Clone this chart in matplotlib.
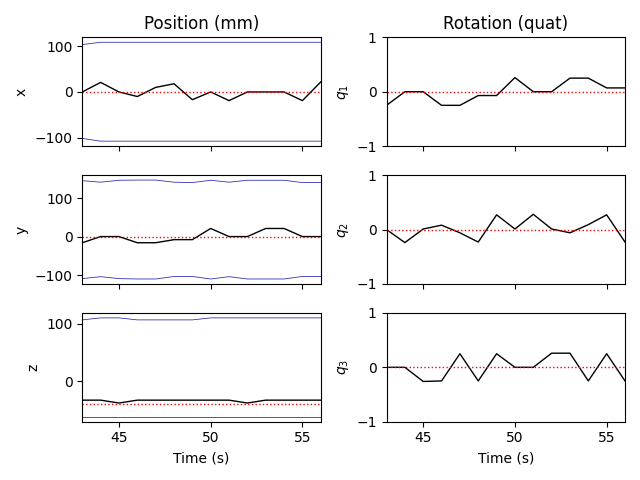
import numpy as np
import matplotlib
matplotlib.use("Agg")
import matplotlib.pyplot as plt

# tempi campionati (s)
t = np.arange(43, 57)

# posizione misurata (mm)
pos_x = [0, 21, 0, -10, 10, 18, -17, 0, -19, 0, 0, 0, -19, 22]
pos_y = [-16, 0, 0, -16, -16, -8, -8, 21, 0, 0, 21, 21, 0, 0]
pos_z = [-33, -33, -38, -33, -33, -33, -33, -33, -33, -38, -33, -33, -33, -33]

# limiti superiori / inferiori (mm)
x_hi = [104, 109, 109, 109, 109, 109, 109, 109, 109, 109, 109, 109, 109, 109]
x_lo = [-102, -108, -108, -108, -108, -108, -108, -108, -108, -108, -108, -108, -108, -108]
y_hi = [145, 141, 146, 146.5, 146.5, 141, 140, 146, 141, 146, 146, 146, 140, 140]
y_lo = [-109, -104, -109, -110, -110, -103.5, -103.5, -110, -104, -110, -110, -110, -103.5, -103.5]
z_hi = [107, 110.5, 110.5, 107, 107, 107, 107, 110.5, 110.5, 110.5, 110.5, 110.5, 110.5, 110.5]
z_lo = [-62] * 14

# riferimenti
pos_ref = [0, 0, -39]

# rotazione (quaternione)
q1 = [-0.25, 0, 0, -0.25, -0.25, -0.07, -0.07, 0.26, 0, 0, 0.25, 0.25, 0.07, 0.07]
q2 = [0, -0.24, 0.01, 0.08, -0.06, -0.23, 0.27, 0.01, 0.28, 0.01, -0.06, 0.09, 0.27, -0.23]
q3 = [0, 0, -0.26, -0.25, 0.25, -0.25, 0.25, 0, 0, 0.26, 0.26, -0.25, 0.25, -0.25]

fig, axes = plt.subplots(3, 2, figsize=(6.4, 4.8), dpi=100, sharex=True)

pos = [pos_x, pos_y, pos_z]
his = [x_hi, y_hi, z_hi]
los = [x_lo, y_lo, z_lo]
labels = ['x', 'y', 'z']
for i in range(3):
    ax = axes[i, 0]
    ax.plot(t, his[i], color='#3333bb', lw=0.6)
    ax.plot(t, los[i], color='#3333bb', lw=0.6)
    ax.plot(t, pos[i], 'k', lw=1)
    ax.axhline(pos_ref[i], color='r', ls=':', lw=1)
    ax.set_ylabel(labels[i])

quats = [q1, q2, q3]
for i in range(3):
    ax = axes[i, 1]
    ax.plot(t, quats[i], 'k', lw=1)
    ax.axhline(0, color='r', ls=':', lw=1)
    ax.set_ylim(-1, 1)
    ax.set_yticks([-1, 0, 1])
    ax.set_ylabel(f'$q_{i+1}$')

axes[0, 0].set_title('Position (mm)')
axes[0, 1].set_title('Rotation (quat)')
axes[2, 0].set_xlabel('Time (s)')
axes[2, 1].set_xlabel('Time (s)')
axes[0, 0].set_xlim(43, 56)

plt.tight_layout()
plt.savefig('out.png')
